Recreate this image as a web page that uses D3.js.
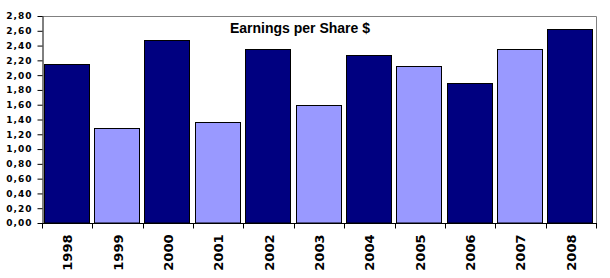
<!DOCTYPE html>
<html><head><meta charset="utf-8">
<script src="https://cdn.jsdelivr.net/npm/d3@7"></script>
<style>body{margin:0;background:#fff}svg{display:block}</style>
</head><body>
<svg id="c" width="610" height="278"></svg>
<script>
const years = ["1998","1999","2000","2001","2002","2003","2004","2005","2006","2007","2008"];
const eps = [2.15,1.28,2.48,1.36,2.35,1.60,2.27,2.12,1.89,2.35,2.62];
const yTicks = [0,0.2,0.4,0.6,0.8,1.0,1.2,1.4,1.6,1.8,2.0,2.2,2.4,2.6,2.8];
const title = "Earnings per Share $";
const colors = ["#000080","#9999FF"];

const svg = d3.select("#c");
const L=42, R=596, T=16, B=223;
const x = d3.scaleBand().domain(years).range([L,R]).paddingInner(0.11).paddingOuter(0.055);
const xb = d3.scaleBand().domain(years).range([L,R]);
const y = d3.scaleLinear().domain([0,2.8]).range([B,T]);

svg.append("rect").attr("width",610).attr("height",278).attr("fill","#fff");
svg.append("path").attr("d",`M${L},${T+0.5}H${R+0.5}V${B}`).attr("fill","none").attr("stroke","#808080");

svg.selectAll("rect.bar").data(years).join("rect")
  .attr("x",d=>Math.round(x(d))-0.5)
  .attr("y",(d,i)=>Math.round(y(eps[i]))+0.5)
  .attr("width",Math.round(x.bandwidth()))
  .attr("height",(d,i)=>B-Math.round(y(eps[i]))-0.5)
  .attr("fill",(d,i)=>colors[i%2])
  .attr("stroke","#000").attr("stroke-width",1);

const fmt = d=>d.toFixed(2).replace(".",",");
const ya = svg.append("g").attr("transform",`translate(${L+0.5},0)`)
  .call(d3.axisLeft(y).tickValues(yTicks).tickFormat(fmt).tickSize(5).tickPadding(5).tickSizeOuter(0));
ya.select(".domain").attr("stroke","#000");
ya.selectAll("text").attr("font-family","DejaVu Sans").attr("font-weight","bold").attr("font-size","9px").attr("letter-spacing","1px").attr("fill","#000");

const xa = svg.append("g").attr("transform",`translate(0,${B+0.5})`);
xa.append("line").attr("x1",L).attr("x2",R+1).attr("stroke","#000");
const edges = years.map(d=>xb(d)).concat([R]);
xa.selectAll("line.t").data(edges).join("line").attr("class","t")
  .attr("x1",d=>Math.round(d)+0.5).attr("x2",d=>Math.round(d)+0.5).attr("y1",0).attr("y2",5).attr("stroke","#000");
xa.selectAll("text").data(years).join("text")
  .attr("transform",d=>`translate(${xb(d)+xb.bandwidth()/2+5},11) rotate(-90)`)
  .attr("text-anchor","end")
  .attr("font-family","DejaVu Sans").attr("font-weight","bold").attr("font-size","13px").attr("fill","#000")
  .text(d=>d);

svg.append("text").attr("x",300).attr("y",33).attr("text-anchor","middle")
  .attr("font-family","Liberation Sans, Arial").attr("font-weight","bold").attr("font-size","14px")
  .text(title);
</script>
</body></html>
